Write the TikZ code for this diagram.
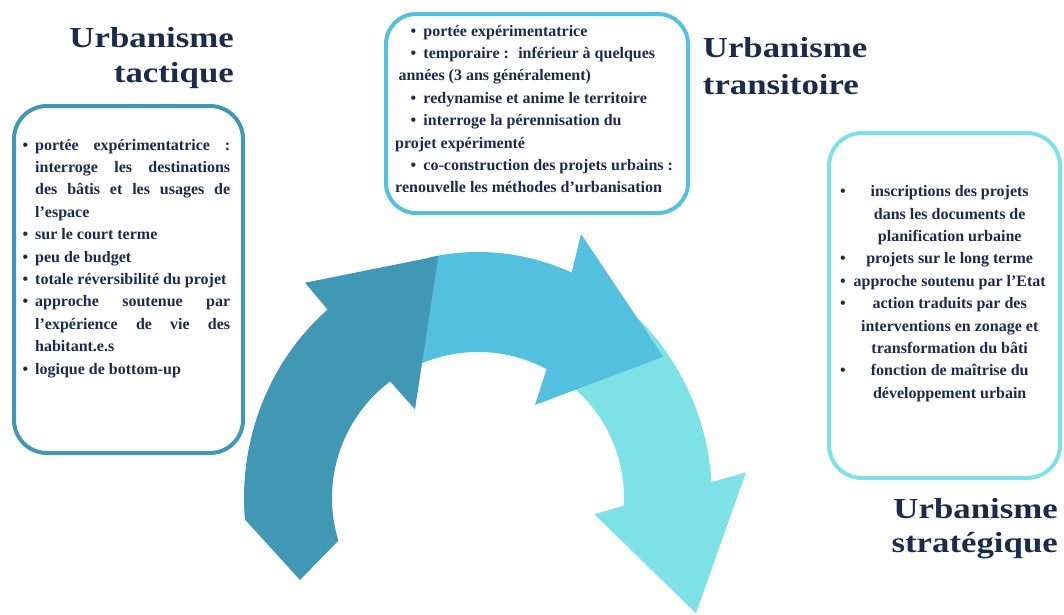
\documentclass[tikz,border=0pt]{standalone}
\usepackage{fontspec}
\setmainfont{Liberation Serif}
\newfontfamily\ttlfont[FakeStretch=1.2]{Liberation Serif}
\definecolor{navy}{HTML}{1B2B4B}
\definecolor{darkc}{HTML}{4098B4}
\definecolor{midc}{HTML}{54C0E0}
\definecolor{lightc}{HTML}{7EE1E5}
\newcommand\rstack[1]{\vtop{\halign{\hfil##\cr#1\crcr}}}
\newcommand\lstack[1]{\vtop{\halign{##\hfil\cr#1\crcr}}}
\newcommand\bl{\makebox[12.5pt][l]{\textbullet}}
\newcommand\tb{\hspace*{15.5pt}\makebox[12.8pt][l]{\textbullet}}
\newcommand\rl[1]{\hbox to 219pt{\rlap{\textbullet}\hfil #1\hfil}}
\newcommand\rn[1]{\hbox to 219pt{\hfil #1\hfil}}
\tikzset{
  cardbox/.style={draw, line width=4pt, fill=white, rounded corners=33pt, inner sep=0pt, anchor=north west},
  bodytxt/.style={inner sep=0pt, anchor=base west, text=navy, font=\bfseries\fontsize{16}{22.4}\selectfont},
  ttl/.style={inner sep=0pt, text=navy, font=\ttlfont\bfseries\fontsize{29}{35}\selectfont}
}
\begin{document}
\begin{tikzpicture}[x=1pt,y=1pt]
\useasboundingbox (0,0) rectangle (1064,-614);

% boxes
\node[cardbox, draw=darkc, minimum width=229pt, minimum height=347pt] (lbox) at (12,-104) {};
\node[cardbox, draw=midc, rounded corners=30pt, minimum width=302pt, minimum height=199pt] (tbox) at (384,-12) {};
\node[cardbox, draw=lightc, minimum width=231pt, minimum height=345pt] (rbox) at (827,-131) {};

% arrows
\begin{scope}[shift={(478,-498)}]
\fill[lightc] (47:234 and 246) arc[start angle=47, end angle=3.7, x radius=234, y radius=246]
  -- (268,25.7) -- (218,-115.3) -- (116.3,-16.3) -- (-3:146)
  arc[start angle=-3, end angle=52, radius=146] -- cycle;
\fill[midc] (102:234 and 246) arc[start angle=102, end angle=66.4, x radius=234, y radius=246]
  -- (103,264) -- (185.3,141.3) -- (57,93) -- (62:146)
  arc[start angle=62, end angle=120, radius=146] -- cycle;
\fill[darkc] (130:234 and 246) arc[start angle=130, end angle=185, x radius=234, y radius=246]
  -- (-178,-82) -- (197:146)
  arc[start angle=197, end angle=127, radius=146]
  -- (-63,88.7) -- (-39.7,242) -- (-173,215.3) -- cycle;
\end{scope}

% titles
\node[ttl, anchor=base east] (ttact) at (234,-47.3) {\rstack{Urbanisme\cr tactique}};
\node[ttl, anchor=base west, font=\ttlfont\bfseries\fontsize{29}{37}\selectfont] (ttrans) at (702.7,-57.3) {\lstack{Urbanisme\cr transitoire}};
\node[ttl, anchor=base east, font=\ttlfont\bfseries\fontsize{29}{34}\selectfont] (tstrat) at (1058,-518.3) {\rstack{Urbanisme\cr stratégique}};

% left text
\node[bodytxt] (ltext) at (22.5,-150) {\vtop{%
\hbox to 207.5pt{\bl portée expérimentatrice :}
\hbox to 207.5pt{\hspace*{12.5pt}interroge les destinations}
\hbox to 207.5pt{\hspace*{12.5pt}des bâtis et les usages de}
\hbox{\hspace*{12.5pt}l’espace}
\hbox{\bl sur le court terme}
\hbox{\bl peu de budget}
\hbox{\bl totale réversibilité du projet}
\hbox to 207.5pt{\bl approche soutenue par}
\hbox to 207.5pt{\hspace*{12.5pt}l’expérience de vie des}
\hbox{\hspace*{12.5pt}habitant.e.s}
\hbox{\bl logique de bottom-up}}};

% top text
\node[bodytxt] (ttext) at (395,-36) {\vtop{%
\hbox{\tb portée expérimentatrice}
\hbox{\tb temporaire : \ inférieur à quelques}
\hbox{\hspace*{3.3pt}années (3 ans généralement)}
\hbox{\tb redynamise et anime le territoire}
\hbox{\tb interroge la pérennisation du}
\hbox{projet expérimenté}
\hbox{\tb co-construction des projets urbains :}
\hbox{renouvelle les méthodes d’urbanisation}}};

% right text
\node[bodytxt] (rtext) at (840,-196.7) {\vtop{%
\rl{inscriptions des projets}
\rn{dans les documents de}
\rn{planification urbaine}
\rl{projets sur le long terme}
\rl{approche soutenu par l’Etat}
\rl{action traduits par des}
\rn{interventions en zonage et}
\rn{transformation du bâti}
\rl{fonction de maîtrise du}
\rn{développement urbain}}};
\end{tikzpicture}
\end{document}
